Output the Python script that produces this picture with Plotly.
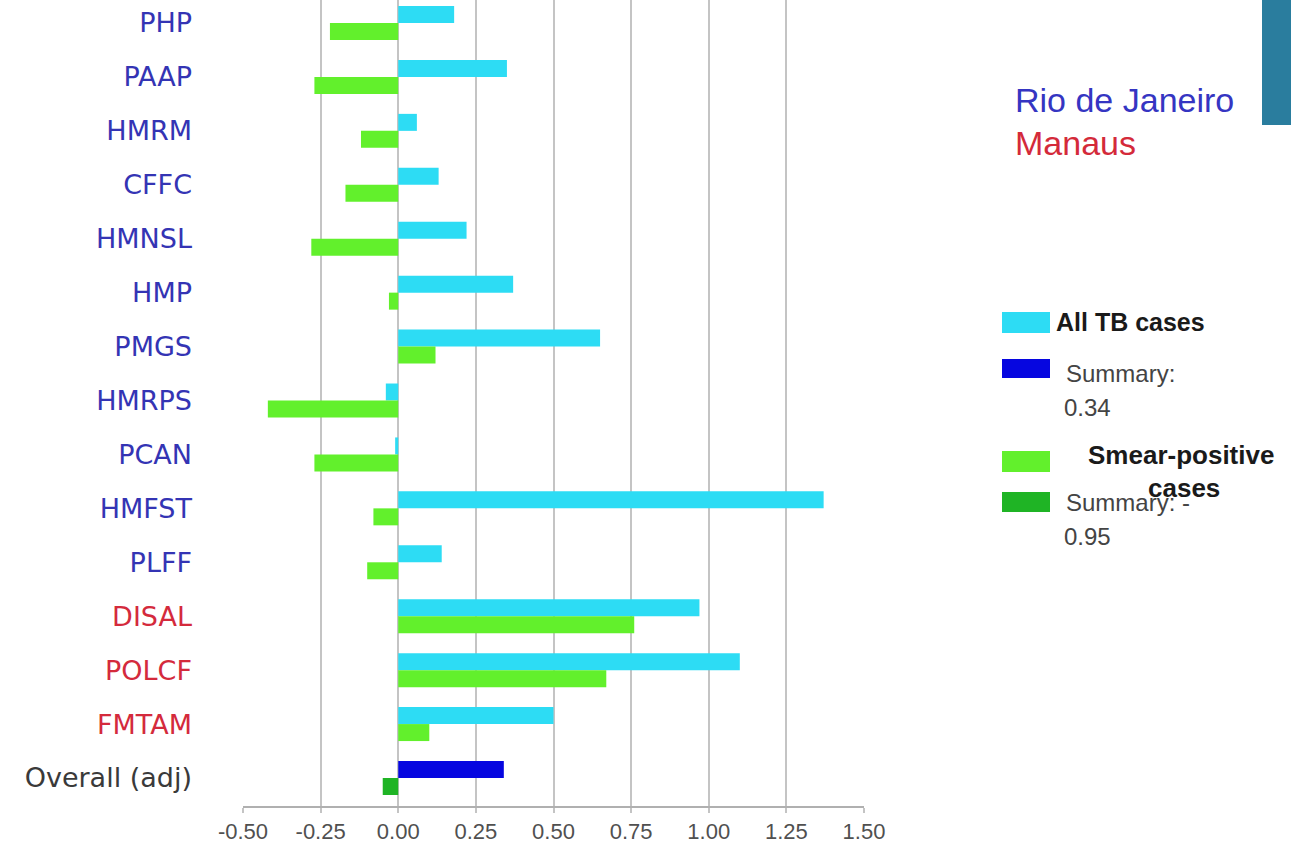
import plotly.graph_objects as go

# ---- data ----
categories = ["PHP", "PAAP", "HMRM", "CFFC", "HMNSL", "HMP", "PMGS", "HMRPS",
              "PCAN", "HMFST", "PLFF", "DISAL", "POLCF", "FMTAM", "Overall (adj)"]
city = ["rio"] * 11 + ["manaus"] * 3 + ["overall"]
all_tb = [0.18, 0.35, 0.06, 0.13, 0.22, 0.37, 0.65, -0.04, -0.01, 1.37, 0.14, 0.97, 1.10, 0.50, None]
smear_pos = [-0.22, -0.27, -0.12, -0.17, -0.28, -0.03, 0.12, -0.42, -0.27, -0.08, -0.10, 0.76, 0.67, 0.10, None]
summary_all = [None] * 14 + [0.34]
summary_smear = [None] * 14 + [-0.05]
x_ticks = [-0.50, -0.25, 0.00, 0.25, 0.50, 0.75, 1.00, 1.25, 1.50]

label_colors = {"rio": "#3434b4", "manaus": "#d42a3c", "overall": "#3a3a3a"}
tick_text = [f'<span style="color:{label_colors[c]}">{n}</span>' for n, c in zip(categories, city)]

OFF = 0  # body margin removed via post_script
W, H = 1291, 850
ML = 243 - OFF
MR = W - (864 - OFF)
MT = 0
MB = H - (806 - OFF)
PW, PH = W - ML - MR, H - MT - MB

# category axis range chosen so PHP centre sits at y~23 and Overall at y~778
unit = (778 - 23) / 14
y_top = -(23 - OFF - MT) / unit
y_bot = 14 + (806 - 778) / unit


def px(xs):
    return (xs - OFF - ML) / PW


def py(ys):
    return 1 - (ys - OFF - MT) / PH


fig = go.Figure()
fig.add_trace(go.Bar(y=categories, x=all_tb, orientation="h", name="All TB cases",
                     marker=dict(color="#2ddcf4", line=dict(width=0)), offsetgroup="a"))
fig.add_trace(go.Bar(y=categories, x=summary_all, orientation="h", name="Summary: 0.34",
                     marker=dict(color="#0606e0", line=dict(width=0)), offsetgroup="a"))
fig.add_trace(go.Bar(y=categories, x=smear_pos, orientation="h", name="Smear-positive cases",
                     marker=dict(color="#62f02c", line=dict(width=0)), offsetgroup="b"))
fig.add_trace(go.Bar(y=categories, x=summary_smear, orientation="h", name="Summary: -0.95",
                     marker=dict(color="#1fb425", line=dict(width=0)), offsetgroup="b"))

shapes = []
# teal corner block
shapes.append(dict(type="rect", xref="paper", yref="paper", x0=px(1262), x1=px(1300),
                   y0=py(125), y1=py(-5), fillcolor="#2a7d9e", line=dict(width=0)))
# legend swatches
for y0, y1, col in [(312, 333, "#2ddcf4"), (359, 378, "#0606e0"),
                    (451, 472, "#62f02c"), (492, 512, "#1fb425")]:
    shapes.append(dict(type="rect", xref="paper", yref="paper", x0=px(1002), x1=px(1050),
                       y0=py(y1), y1=py(y0), fillcolor=col, line=dict(width=0)))

ann = []


def text(x, y, s, size, color, bold=False, family="Liberation Sans"):
    ann.append(dict(x=px(x), y=py(y), xref="paper", yref="paper", xanchor="left", yanchor="middle",
                    text=f"<b>{s}</b>" if bold else s, showarrow=False,
                    font=dict(size=size, color=color, family=family)))


text(1013, 100, "Rio de Janeiro", 34, "#3535c2")
text(1013, 143, "Manaus", 34, "#d42a3a")
text(1054, 322, "All TB cases", 25, "#1a1a1a", bold=True)
text(1064, 373, "Summary:", 24, "#444444")
text(1062, 407, "0.34", 24, "#444444")
text(1064, 503, "Summary: -", 24, "#444444")
text(1062, 536, "0.95", 24, "#444444")
text(1086, 455, "Smear-positive", 26, "#1a1a1a", bold=True)
text(1146, 488, "cases", 26, "#1a1a1a", bold=True)

fig.update_layout(
    width=W, height=H,
    margin=dict(l=ML, r=MR, t=MT, b=MB, pad=0),
    paper_bgcolor="white", plot_bgcolor="white",
    barmode="group", bargap=0.37, bargroupgap=0,
    showlegend=False,
    shapes=shapes, annotations=ann,
    xaxis=dict(range=[-0.5, 1.5], tickvals=x_ticks, ticktext=[f"{v:.2f}" for v in x_ticks],
               showgrid=True, gridcolor="#c4c4c4", gridwidth=1.5, zeroline=False,
               showline=True, linecolor="#b0b0b0", linewidth=1.5,
               ticks="outside", ticklen=5, tickcolor="#c4c4c4", tickwidth=1.5,
               tickfont=dict(size=22, color="#505050", family="Liberation Sans")),
    yaxis=dict(categoryorder="array", categoryarray=categories,
               range=[y_bot, y_top], tickvals=categories, ticktext=tick_text,
               showgrid=False, zeroline=False, showline=False, ticks="",
               ticklabelstandoff=50,
               tickfont=dict(size=27, family="DejaVu Sans", color="#3a3a3a")),
)

fig.write_html("out.html", config={"displayModeBar": False},
               post_script="document.body.style.margin='0';document.body.style.overflow='hidden';")
